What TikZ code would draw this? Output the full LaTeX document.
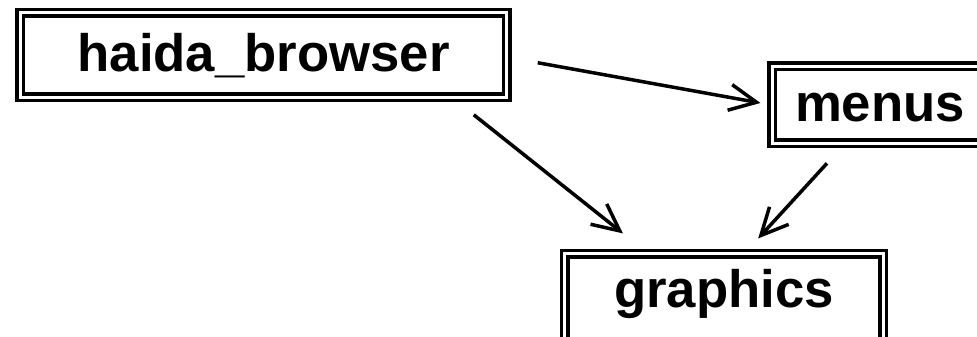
\documentclass[tikz,border=0pt]{standalone}
\usepackage{fontspec}
\setmainfont{Liberation Sans}
\usepackage{tikz}
\usetikzlibrary{arrows.meta}

\begin{document}
\begin{tikzpicture}[
    x=0.02cm, y=-0.02cm,
    box/.style={rectangle, draw, line width=0.07cm, double, double distance=0.06cm,
        inner sep=0pt, text height=0.9cm, text depth=0.22cm,
        font=\fontsize{30}{36}\selectfont\bfseries},
    arrow/.style={-{Straight Barb[length=0.54cm, width=0.52cm, line width=0.07cm]}, line width=0.07cm}
]
\useasboundingbox (0,0) rectangle (977,337);

% Modules
\node[box, minimum width=9.74cm, minimum height=1.7cm] (haida) at (263.5,55) {haida\_browser};
\node[box, minimum width=4.32cm, minimum height=1.55cm] (menus) at (880,104.75) {menus};
\node[box, minimum width=6.37cm, minimum height=2cm, text depth=0.72cm] (graphics) at (724,303.5) {graphics};

% Dependencies
\draw[arrow, shorten <=0.59cm, shorten >=0.2cm] ([yshift=-0.05cm]haida.east) -- (menus.west);
\draw[arrow, shorten <=0.5cm, shorten >=0.59cm] ([xshift=-1.09cm]haida.south east) -- ([xshift=1.66cm]graphics.north west);
\draw[arrow, shorten <=0.49cm, shorten >=0.36cm] ([xshift=-0.73cm]menus.south) -- ([xshift=0.44cm]graphics.north);

\end{tikzpicture}
\end{document}
